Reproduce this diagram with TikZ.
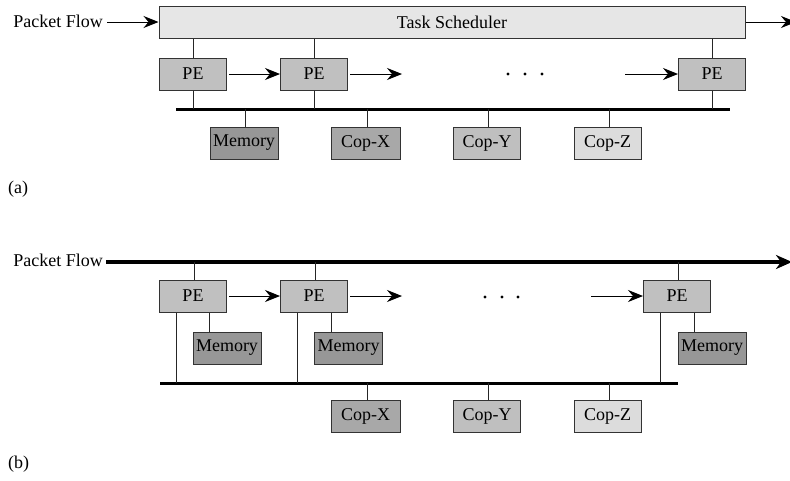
\documentclass[tikz,border=0pt]{standalone}
\usepackage{fontspec}
\setmainfont{Liberation Serif}
\usetikzlibrary{arrows.meta}
\definecolor{schedfill}{HTML}{E6E6E6}
\definecolor{pefill}{HTML}{C0C0C0}
\definecolor{memfill}{HTML}{979797}
\definecolor{copxfill}{HTML}{A8A8A8}
\definecolor{copyfill}{HTML}{BFBFBF}
\definecolor{copzfill}{HTML}{DCDCDC}
\definecolor{edge}{HTML}{333333}
\tikzset{
  unit/.style={draw=edge, line width=1pt, minimum height=32pt, minimum width=67pt,
    inner sep=0pt, font=\fontsize{18}{20}\selectfont},
  pebox/.style={unit, fill=pefill},
  membox/.style={unit, fill=memfill, minimum width=68pt},
  copx/.style={unit, fill=copxfill, minimum width=69pt},
  copy/.style={unit, fill=copyfill},
  copz/.style={unit, fill=copzfill},
  label/.style={font=\fontsize{18}{20}\selectfont, inner sep=0pt},
  link/.style={line width=1pt, draw=black!85},
  flow/.style={line width=1pt, -{Stealth[length=15pt,width=12pt,inset=5pt]}},
  bus/.style={line width=3pt},
  dot/.style={fill=black, draw=none},
}
\begin{document}
\begin{tikzpicture}[x=1pt, y=-1pt]
\useasboundingbox (0,0) rectangle (790,480);

% ---------------- (a) shared task scheduler ----------------
\node[label, anchor=base east] (pfa) at (103,27) {Packet Flow};
\node[unit, fill=schedfill, minimum width=586pt] (sched) at (452,22) {Task Scheduler};
\draw[flow] (pfa.east |- sched.west) ++(4,0) coordinate (pfain) -- (sched.west);
\coordinate (outa) at (796,22);
\draw[flow] (sched.east) -- (outa);

\node[pebox] (a1) at (193,74) {PE};
\node[pebox] (a2) at (314,74) {PE};
\node[pebox] (a3) at (712,74) {PE};
\foreach \p in {a1,a2,a3}
  \draw[link] (\p.north) -- (\p.north |- sched.south);

\draw[flow] ([xshift=2pt]a1.east) -- (a2.west);
\coordinate (a2end) at (402,74);
\draw[flow] ([xshift=2pt]a2.east) -- (a2end);
\coordinate (a3start) at (625,74);
\draw[flow] (a3start) -- (a3.west);
\foreach \x in {508,525,542}
  \fill[dot] (\x,74) circle (1.7pt);

\coordinate (busaw) at (176,109);
\coordinate (busae) at (730,109);
\draw[bus] (busaw) -- (busae);
\foreach \p in {a1,a2,a3}
  \draw[link] (\p.south) -- (\p.south |- busaw);

\node[membox] (mema) at (244,143) {Memory};
\node[copx] (cxa) at (365.5,143) {Cop-X};
\node[copy] (cya) at (487,143) {Cop-Y};
\node[copz] (cza) at (607.5,143) {Cop-Z};
\foreach \p in {mema,cxa,cya,cza}
  \draw[link] ([xshift=1.5pt]\p.north) -- ([xshift=1.5pt]\p.north |- busaw);

\node[label, anchor=base west] (laba) at (8,193) {(a)};

% ---------------- (b) distributed packet flow ----------------
\node[label, anchor=base east] (pfb) at (103,266) {Packet Flow};
\coordinate (flowbw) at (106,262);
\coordinate (flowbe) at (792,262);
\draw[line width=3.3pt, -{Stealth[length=16pt,width=14pt,inset=5pt]}] (flowbw) -- (flowbe);

\node[pebox] (b1) at (193,296) {PE};
\node[pebox] (b2) at (314,296) {PE};
\node[pebox] (b3) at (677,296) {PE};
\foreach \p in {b1,b2,b3}
  \draw[link] ([xshift=1pt]\p.north) -- ([xshift=1pt]\p.north |- flowbw);

\draw[flow] ([xshift=2pt]b1.east) -- (b2.west);
\coordinate (b2end) at (402,296);
\draw[flow] ([xshift=2pt]b2.east) -- (b2end);
\coordinate (b3start) at (591,296);
\draw[flow] (b3start) -- (b3.west);
\foreach \x in {485,502,518}
  \fill[dot] (\x,297) circle (1.7pt);

\node[membox] (m1) at (227,348) {Memory};
\node[membox] (m2) at (348.5,348) {Memory};
\node[membox] (m3) at (712,348) {Memory};
\draw[link] (m1.north west) ++(17,0) coordinate (m1t) -- (m1t |- b1.south);
\draw[link] (m2.north west) ++(17,0) coordinate (m2t) -- (m2t |- b2.south);
\draw[link] (m3.north west) ++(17,0) coordinate (m3t) -- (m3t |- b3.south);

\coordinate (busbw) at (160,383);
\coordinate (busbe) at (678,383);
\draw[bus] (busbw) -- (busbe);
\draw[link] (b1.south west) ++(17,0) coordinate (b1d) -- (b1d |- busbw);
\draw[link] (b2.south west) ++(17,0) coordinate (b2d) -- (b2d |- busbw);
\draw[link] (b3.south west) ++(17,0) coordinate (b3d) -- (b3d |- busbw);

\node[copx] (cxb) at (365.5,416) {Cop-X};
\node[copy] (cyb) at (487,416) {Cop-Y};
\node[copz] (czb) at (607.5,416) {Cop-Z};
\foreach \p in {cxb,cyb,czb}
  \draw[link] ([xshift=1.5pt]\p.north) -- ([xshift=1.5pt]\p.north |- busbw);

\node[label, anchor=base west] (labb) at (8,468) {(b)};
\end{tikzpicture}
\end{document}
